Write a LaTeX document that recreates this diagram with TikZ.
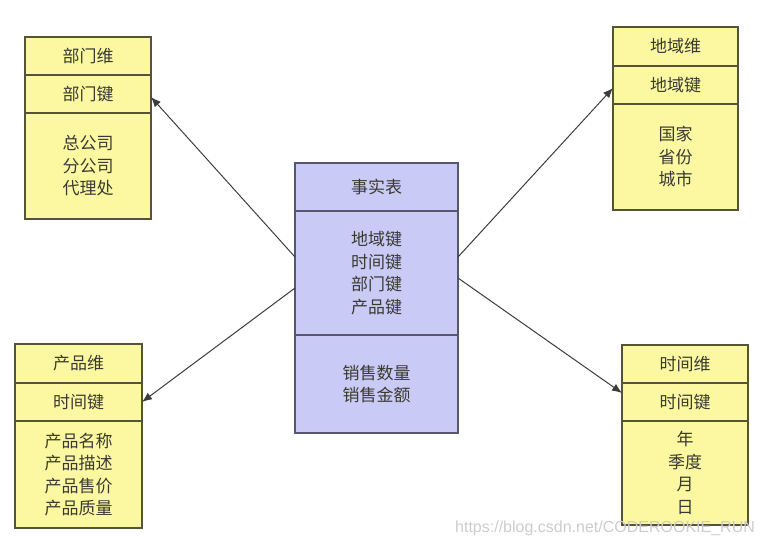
\documentclass[tikz,border=0pt]{standalone}
\usepackage{fontspec}
\newfontfamily\cjk{Noto Sans CJK SC}
\newfontfamily\wmfont{Liberation Sans}
\usetikzlibrary{arrows.meta,positioning}
\definecolor{gelb}{HTML}{FCF8A2}
\definecolor{gelbrand}{HTML}{55533A}
\definecolor{lila}{HTML}{CACAF6}
\definecolor{lilarand}{HTML}{56566E}
\definecolor{schrift}{HTML}{3A3A32}
\definecolor{pfeil}{HTML}{3C3C3C}
\tikzset{
  dimbox/.style={draw=gelbrand,fill=gelb,line width=1.2pt,inner sep=0pt,outer sep=0pt,
    align=center,text=schrift,font=\cjk\fontsize{17}{22.5}\selectfont},
  faktbox/.style={dimbox,draw=lilarand,fill=lila,minimum width=163pt},
  link/.style={-{Latex[length=10pt,width=8pt]},pfeil,line width=1pt},
}

\begin{document}
\begin{tikzpicture}[x=1pt,y=-1pt]
  \useasboundingbox (0,0) rectangle (762,544);
  % Faktentabelle
  \node[faktbox,anchor=north west,minimum height=48pt] (fact-title) at (295,163) {事实表};
  \node[faktbox,below=0pt of fact-title,minimum height=124pt] (fact-keys) {地域键\\时间键\\部门键\\产品键};
  \node[faktbox,below=0pt of fact-keys,minimum height=98pt] (fact-vals) {销售数量\\销售金额};
  % Dimensionen
  \node[dimbox,anchor=north west,minimum width=126pt,minimum height=38pt] (dept-title) at (25,37) {部门维};
  \node[dimbox,below=0pt of dept-title,minimum width=126pt,minimum height=38pt] (dept-key) {部门键};
  \node[dimbox,below=0pt of dept-key,minimum width=126pt,minimum height=106pt] (dept-attr) {总公司\\分公司\\代理处};
  \node[dimbox,anchor=north west,minimum width=125pt,minimum height=39pt] (region-title) at (613,27) {地域维};
  \node[dimbox,below=0pt of region-title,minimum width=125pt,minimum height=38pt] (region-key) {地域键};
  \node[dimbox,below=0pt of region-key,minimum width=125pt,minimum height=106pt] (region-attr) {国家\\省份\\城市};
  \node[dimbox,anchor=north west,minimum width=127pt,minimum height=39pt] (prod-title) at (15,344) {产品维};
  \node[dimbox,below=0pt of prod-title,minimum width=127pt,minimum height=38pt] (prod-key) {时间键};
  \node[dimbox,below=0pt of prod-key,minimum width=127pt,minimum height=107pt] (prod-attr) {产品名称\\产品描述\\产品售价\\产品质量};
  \node[dimbox,anchor=north west,minimum width=126pt,minimum height=38pt] (time-title) at (622,345) {时间维};
  \node[dimbox,below=0pt of time-title,minimum width=126pt,minimum height=38pt] (time-key) {时间键};
  \node[dimbox,below=0pt of time-key,minimum width=126pt,minimum height=104pt] (time-attr) {年\\季度\\月\\日};
  % Pfeile
  \draw[link] ([yshift=16pt]fact-keys.west) -- ([yshift=-3pt]dept-key.east);
  \draw[link] ([yshift=-15pt]fact-keys.west) -- (prod-key.east);
  \draw[link] ([yshift=16pt]fact-keys.east) -- ([yshift=-3pt]region-key.west);
  \draw[link] ([yshift=-5pt]fact-keys.east) -- ([yshift=9pt]time-key.west);
  \node[anchor=base west,inner sep=0pt,text=gray!40,font=\wmfont\fontsize{16}{16}\selectfont] (mark) at (455,532) {https://blog.csdn.net/CODEROOKIE\_RUN};
\end{tikzpicture}
\end{document}
